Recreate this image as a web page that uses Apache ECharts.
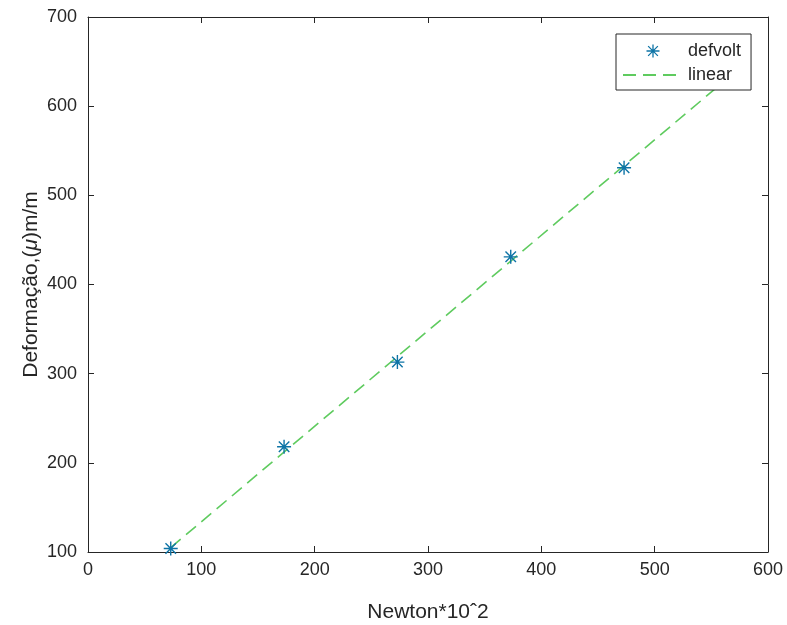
<!DOCTYPE html>
<html>
<head>
<meta charset="utf-8">
<script src="https://cdn.jsdelivr.net/npm/echarts@6/dist/echarts.min.js"></script>
<style>html,body{margin:0;padding:0;background:#fff;}#c{width:787px;height:625px;}</style>
</head>
<body>
<div id="c"></div>
<script>
// Data
var forceX = [73, 173, 273, 373, 473];
var strainY = [104, 218, 313, 431, 531];
var fitX = [73, 580];
var fitY = [105, 648];
var xTicks = [0, 100, 200, 300, 400, 500, 600];
var yTicks = [100, 200, 300, 400, 500, 600, 700];

var scatterData = forceX.map(function (x, i) { return [x, strainY[i]]; });
var fitData = fitX.map(function (x, i) { return [x, fitY[i]]; });

var asterisk = 'path://M10.8 0H13.2V24H10.8Z M0 10.8H24V13.2H0Z M2.15 3.85L3.85 2.15L21.85 20.15L20.15 21.85Z M20.15 2.15L21.85 3.85L3.85 21.85L2.15 20.15Z';
var axisCol = '#262626';
var font = 'Liberation Sans, Arial, sans-serif';

function xAx(pos, show) {
  return {
    type: 'value', position: pos, min: xTicks[0], max: xTicks[xTicks.length - 1], interval: 100,
    axisLine: { show: true, onZero: false, lineStyle: { color: axisCol, width: 1 } },
    axisTick: { show: true, inside: true, length: 6, lineStyle: { color: axisCol } },
    axisLabel: { show: show, color: axisCol, fontSize: 18, fontFamily: font, margin: 9 },
    splitLine: { show: false },
    name: show ? 'Newton*10ˆ2' : '', nameLocation: 'middle', nameGap: 50, nameMoveOverlap: false,
    nameTextStyle: { color: axisCol, fontSize: 21, fontFamily: font }
  };
}
function yAx(pos, show) {
  return {
    type: 'value', position: pos, min: yTicks[0], max: yTicks[yTicks.length - 1], interval: 100,
    axisLine: { show: true, onZero: false, lineStyle: { color: axisCol, width: 1 } },
    axisTick: { show: true, inside: true, length: 6, lineStyle: { color: axisCol } },
    axisLabel: { show: show, color: axisCol, fontSize: 18, fontFamily: font, margin: 11 },
    splitLine: { show: false },
    name: show ? 'Deformação,({i|μ})m/m' : '', nameLocation: 'middle', nameGap: 46, nameMoveOverlap: false,
    nameTextStyle: { color: axisCol, fontSize: 21, fontFamily: font, rich: { i: { fontStyle: 'italic', fontSize: 21, fontFamily: font, color: axisCol } } }
  };
}

var chart = echarts.init(document.getElementById('c'), null, { renderer: 'canvas' });
chart.setOption({
  backgroundColor: '#fff',
  animation: false,
  grid: { left: 88, right: 19, top: 17, bottom: 73, containLabel: false, outerBoundsMode: 'none' },
  xAxis: [xAx('bottom', true), xAx('top', false)],
  yAxis: [yAx('left', true), yAx('right', false)],
  legend: {
    orient: 'vertical', left: 616, top: 34,
    backgroundColor: '#fff', borderColor: axisCol, borderWidth: 1, borderRadius: 0,
    padding: [8, 10, 6, 6], itemWidth: 60, itemHeight: 13, itemGap: 6,
    textStyle: { color: axisCol, fontSize: 18, fontFamily: font },
    data: [{ name: 'defvolt', icon: asterisk }, { name: 'linear', itemStyle: { opacity: 0 } }]
  },
  series: [
    {
      name: 'linear', type: 'line', data: fitData, symbol: 'none', z: 2,
      lineStyle: { color: '#5fcb5f', width: 1.6, type: [13, 7] },
      itemStyle: { color: '#5fcb5f' }
    },
    {
      name: 'defvolt', type: 'scatter', data: scatterData, symbol: asterisk, symbolSize: 14, z: 3,
      itemStyle: { color: '#0e74a6', opacity: 1 }
    }
  ]
});
</script>
</body>
</html>
